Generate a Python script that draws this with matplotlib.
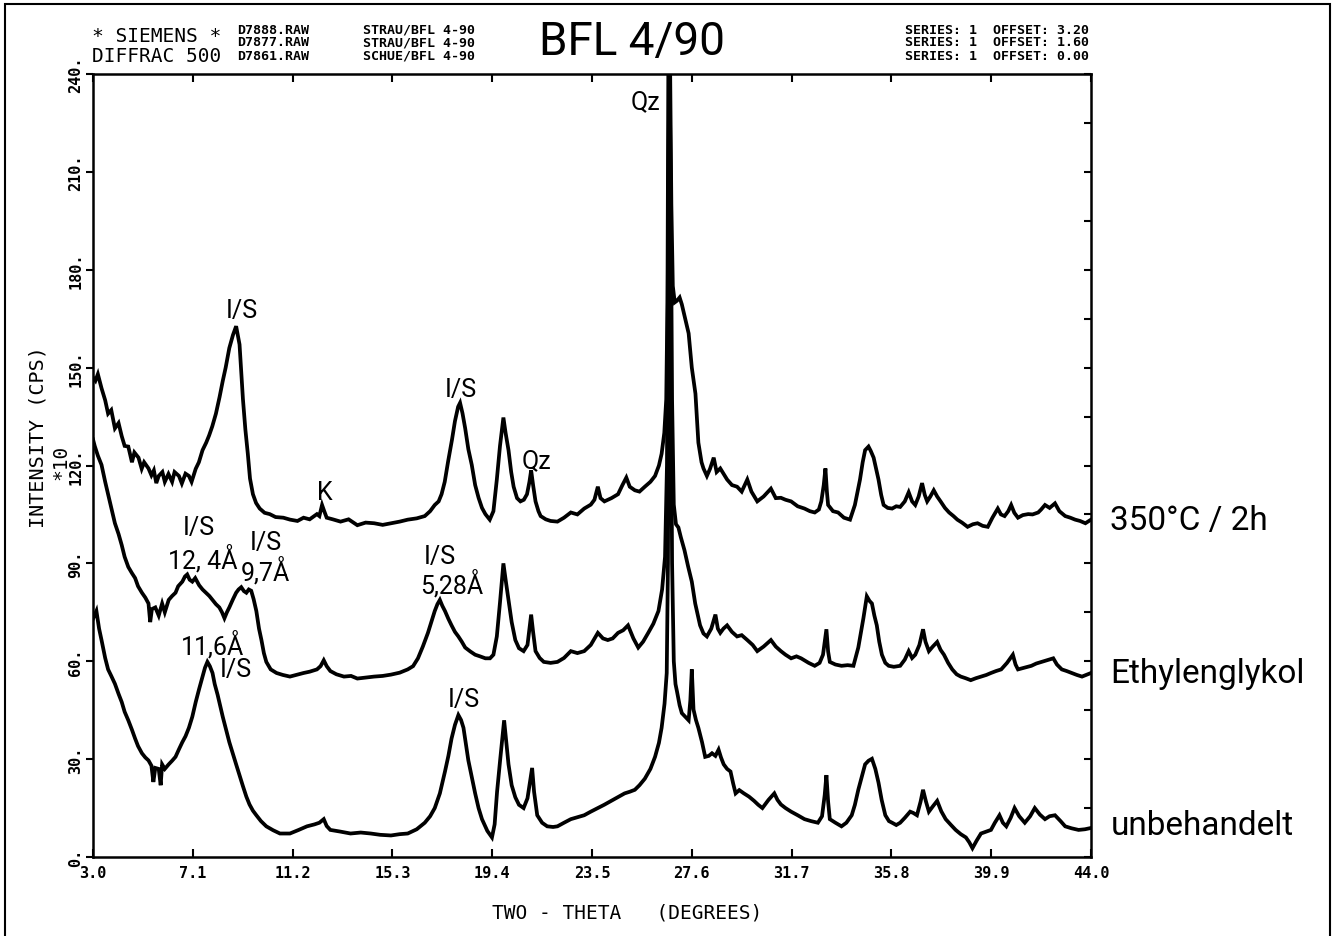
import numpy as np
import matplotlib.pyplot as plt

# Roentgendiffraktogramm BFL 4/90 (drei Praeparate, versetzt)
# Werte: 2-Theta in Grad, Intensitaet in CPS x10

tt_top = [3.0, 3.1, 3.2, 3.35, 3.5, 3.62, 3.75, 3.9, 4.05, 4.18, 4.3, 4.45, 4.6, 4.7, 4.87, 5.0, 5.1, 5.28, 5.4, 5.5,
          5.6, 5.7, 5.85, 5.95, 6.1, 6.25, 6.35, 6.53, 6.65, 6.8, 6.94, 7.05, 7.22, 7.35, 7.5, 7.65, 7.77, 7.9, 8.05, 8.2,
          8.33, 8.45, 8.6, 8.75, 8.88, 9.02, 9.16, 9.26, 9.36, 9.45, 9.57, 9.7, 9.85, 10.05, 10.26, 10.5, 10.82, 11.1,
          11.4, 11.65, 11.9, 12.2, 12.3, 12.41, 12.5, 12.6, 12.85, 13.17, 13.5, 13.86, 14.2, 14.55, 14.9, 15.24, 15.6,
          15.93, 16.3, 16.63, 16.85, 17.04, 17.2, 17.32, 17.45, 17.59, 17.75, 17.87, 18.0, 18.08, 18.18, 18.29, 18.42,
          18.56, 18.7, 18.84, 18.98, 19.12, 19.3, 19.45, 19.59, 19.72, 19.86, 19.95, 20.07, 20.18, 20.28, 20.42, 20.56,
          20.7, 20.83, 20.93, 21.0, 21.08, 21.18, 21.3, 21.39, 21.6, 21.8, 22.08, 22.35, 22.63, 22.9, 23.18, 23.45, 23.6,
          23.74, 23.85, 24.01, 24.3, 24.57, 24.75, 24.91, 25.05, 25.26, 25.45, 25.67, 25.9, 26.09, 26.25, 26.36, 26.47,
          26.55, 26.6, 26.64, 26.7, 26.76, 26.82, 26.9, 26.99, 27.1, 27.19, 27.33, 27.47, 27.6, 27.75, 27.87, 28.0,
          28.08, 28.22, 28.35, 28.5, 28.62, 28.77, 28.9, 29.05, 29.25, 29.46, 29.65, 29.88, 30.05, 30.29, 30.55, 30.85,
          31.05, 31.26, 31.45, 31.68, 31.95, 32.23, 32.45, 32.65, 32.82, 32.92, 33.02, 33.09, 33.15, 33.2, 33.4, 33.61,
          33.85, 34.1, 34.3, 34.51, 34.62, 34.72, 34.86, 34.95, 35.07, 35.17, 35.27, 35.38, 35.48, 35.65, 35.83, 36.0,
          36.16, 36.35, 36.51, 36.65, 36.78, 36.92, 37.06, 37.17, 37.27, 37.4, 37.54, 37.68, 37.82, 38.0, 38.17, 38.35,
          38.51, 38.7, 38.93, 39.15, 39.34, 39.55, 39.76, 39.95, 40.17, 40.3, 40.45, 40.6, 40.72, 40.85, 41.0, 41.2,
          41.42, 41.6, 41.83, 41.95, 42.11, 42.3, 42.52, 42.7, 42.94, 43.15, 43.35, 43.55, 43.77, 44.0]
i_top = [147, 146, 148, 143.7, 140, 135.9, 137, 131.4, 133, 129, 126, 125.8, 121, 124, 122.4, 119, 121, 119.1, 117, 118.5,
         114.6, 116.8, 118, 115, 117.4, 115, 118, 116.8, 114.5, 117.5, 116.8, 115, 119, 121, 124.7, 127, 129.2, 132, 135.9,
         141, 145.9, 150, 156, 160, 162.7, 157.1, 140.3, 131, 123.6, 116, 111.2, 108.5, 106.8, 105.5, 105.1, 104.2, 104,
         103.4, 103, 104, 103.5, 105.1, 104.5, 107.9, 106, 104, 103.5, 102.8, 103.5, 101.7, 102.5, 102.3, 101.8, 102.3,
         102.8, 103.4, 103.8, 104.5, 106, 107.9, 109, 111.2, 115, 121.3, 128, 133.6, 138, 139.2, 136, 131.4, 125, 120.2,
         114, 110.1, 107, 105.1, 103.4, 106, 115.7, 126, 134.7, 130, 124.7, 118, 113.5, 110, 109, 109.5, 111.2, 115,
         118.5, 114, 109, 106, 104.5, 103.5, 103, 102.8, 104, 105.6, 105, 106.8, 108, 109.5, 113.5, 110, 109, 110, 111.2,
         114, 116.3, 113.5, 112.4, 112, 113.5, 115, 116.8, 120, 123.6, 130, 140.3, 170, 250, 250, 200, 175, 170, 170.5,
         171.5, 169.4, 165, 160.5, 150, 142, 127, 121, 119.1, 116.8, 119, 122.4, 118, 119.1, 117.5, 115.7, 114, 113.5,
         112, 115.7, 112, 109, 110.5, 112.9, 110, 110.1, 109.5, 109, 107.5, 106.8, 106, 105.6, 106.5, 109, 114, 119.1,
         112, 107.9, 106, 105.6, 104, 103.4, 107.9, 115.7, 121, 124.7, 125.8, 124.5, 122.4, 119, 115.7, 111, 107.9, 107,
         106.8, 107.5, 107.3, 109, 111.8, 109, 107.9, 110.5, 114.6, 111, 109, 110.5, 112.4, 110.5, 109, 107, 105.6, 104.5,
         103.4, 102.5, 101.2, 102, 102.3, 101.5, 101.2, 104, 106.8, 105, 104.5, 106, 107.9, 105.5, 104, 104.8, 105.1, 105,
         105.6, 106.5, 107.9, 107, 108.4, 106, 104.5, 104, 103.4, 103, 102.3, 103.4]

tt_mid = [3.0, 3.07, 3.2, 3.35, 3.5, 3.62, 3.75, 3.9, 4.05, 4.18, 4.3, 4.45, 4.6, 4.73, 4.85, 5.01, 5.15, 5.28, 5.35, 5.42,
          5.56, 5.7, 5.84, 5.95, 6.11, 6.25, 6.39, 6.5, 6.67, 6.78, 6.87, 6.97, 7.08, 7.2, 7.36, 7.5, 7.64, 7.78, 7.91,
          8.05, 8.19, 8.3, 8.4, 8.5, 8.6, 8.75, 8.88, 8.98, 9.09, 9.2, 9.3, 9.4, 9.5, 9.6, 9.71, 9.82, 9.92, 10.02, 10.12,
          10.3, 10.54, 10.8, 11.09, 11.35, 11.65, 11.9, 12.2, 12.35, 12.48, 12.6, 12.75, 13.0, 13.31, 13.6, 13.86, 14.2,
          14.55, 14.9, 15.24, 15.6, 15.93, 16.15, 16.35, 16.55, 16.76, 16.9, 17.04, 17.15, 17.25, 17.35, 17.46, 17.6,
          17.73, 17.87, 18.01, 18.15, 18.29, 18.5, 18.7, 18.9, 19.12, 19.31, 19.45, 19.59, 19.72, 19.86, 19.97, 20.07,
          20.2, 20.35, 20.5, 20.69, 20.85, 20.93, 21.0, 21.08, 21.18, 21.35, 21.52, 21.8, 22.08, 22.35, 22.63, 22.9, 23.18,
          23.45, 23.74, 23.95, 24.15, 24.35, 24.57, 24.78, 24.98, 25.2, 25.4, 25.6, 25.81, 26.02, 26.23, 26.38, 26.5,
          26.58, 26.63, 26.68, 26.73, 26.79, 26.86, 26.95, 27.05, 27.15, 27.3, 27.45, 27.6, 27.74, 27.94, 28.08, 28.22,
          28.4, 28.57, 28.67, 28.77, 28.9, 29.05, 29.25, 29.46, 29.65, 29.88, 30.1, 30.29, 30.55, 30.85, 31.05, 31.26,
          31.45, 31.68, 31.9, 32.09, 32.4, 32.65, 32.85, 32.99, 33.13, 33.2, 33.27, 33.5, 33.75, 34.0, 34.24, 34.44,
          34.55, 34.65, 34.79, 34.9, 35.0, 35.1, 35.2, 35.3, 35.41, 35.55, 35.69, 35.9, 36.16, 36.35, 36.51, 36.65, 36.78,
          36.95, 37.1, 37.2, 37.34, 37.5, 37.68, 37.82, 37.96, 38.13, 38.3, 38.48, 38.65, 38.85, 39.06, 39.27, 39.48,
          39.7, 39.89, 40.1, 40.31, 40.55, 40.79, 40.9, 41.0, 41.25, 41.55, 41.75, 41.97, 42.2, 42.45, 42.6, 42.8, 43.0,
          43.21, 43.42, 43.63, 43.8, 44.0]
i_mid = [128, 126, 123, 120.2, 115, 111.2, 107, 102.3, 99, 95.6, 92, 88.9, 87, 85.5, 83, 81, 79.5, 77.7, 72, 76, 76.5, 74,
         77.7, 75, 78.8, 80, 81, 83, 84.4, 86, 86.6, 85, 84.4, 85.5, 83.3, 82, 81, 80, 78.8, 77.5, 76.5, 75, 73.2, 75, 76.5,
         79, 81, 82, 82.7, 81.5, 81, 82, 81.6, 79, 75.4, 70, 66.5, 62.5, 59.8, 57.5, 56.4, 55.8, 55.3, 55.8, 56.4, 56.8,
         57.5, 58.5, 60.3, 58.5, 57, 56, 55.3, 55.5, 54.7, 55, 55.3, 55.5, 55.9, 56.5, 57.5, 58.5, 60.9, 64.5, 68.7, 72,
         75.4, 77.5, 78.8, 77, 75.4, 73, 71, 69, 67.6, 66, 64.2, 63, 62, 61.5, 60.9, 60.9, 62, 67.6, 78, 90, 84, 78.8, 72,
         66.5, 64, 63.1, 65, 70, 74.3, 69, 63.1, 61, 59.8, 59.5, 59.8, 61, 63.1, 62.5, 63.1, 65, 68.7, 67, 66.5, 67, 68.7,
         69.5, 71, 67, 64.2, 66, 68.7, 71.5, 75.4, 82, 92, 120, 200, 245, 210, 140, 108, 102, 101, 98, 94, 89, 84.4, 77.7,
         71, 68.5, 67.6, 70, 74.3, 70, 68.7, 70, 71, 69, 67.6, 68, 66.5, 65, 63.1, 64.5, 66.5, 64.5, 63.1, 62, 60.9, 61.5,
         60.9, 59.5, 58.6, 59.5, 62, 69.8, 63, 59.8, 59, 58.6, 58.8, 58.6, 64.2, 69, 73.2, 79.9, 78.5, 77.7, 74, 71, 66, 62,
         59.5, 58.6, 58.3, 58.6, 60.5, 63.1, 61, 62, 65, 69.8, 66, 63.1, 64.5, 65.9, 63.5, 62, 59.5, 57.5, 56, 55.3, 54.8,
         54.2, 54.8, 55.3, 55.8, 56.4, 57, 57.5, 59.5, 62, 59, 57.5, 58, 58.6, 59.3, 59.8, 60.3, 60.9, 59, 57.5, 57, 56.4,
         55.8, 55.3, 55.8, 56.4]

tt_bot = [3.0, 3.14, 3.25, 3.35, 3.5, 3.62, 3.75, 3.9, 4.05, 4.18, 4.3, 4.45, 4.6, 4.73, 4.85, 5.01, 5.15, 5.28, 5.4, 5.48,
          5.56, 5.7, 5.78, 5.84, 5.95, 6.11, 6.25, 6.39, 6.53, 6.67, 6.8, 6.94, 7.08, 7.22, 7.36, 7.5, 7.6, 7.7, 7.8, 7.91,
          8.0, 8.12, 8.22, 8.33, 8.47, 8.6, 8.75, 8.88, 9.02, 9.16, 9.3, 9.43, 9.57, 9.71, 9.9, 10.12, 10.4, 10.68, 11.09,
          11.45, 11.79, 12.1, 12.3, 12.48, 12.6, 12.75, 13.15, 13.58, 14.0, 14.41, 14.8, 15.24, 15.6, 15.93, 16.3, 16.63,
          16.85, 17.04, 17.25, 17.46, 17.6, 17.73, 17.87, 18.01, 18.12, 18.22, 18.32, 18.42, 18.56, 18.7, 18.84, 18.98,
          19.2, 19.39, 19.5, 19.6, 19.73, 19.89, 19.98, 20.07, 20.2, 20.35, 20.5, 20.69, 20.85, 20.97, 21.04, 21.12, 21.25,
          21.45, 21.66, 21.9, 22.08, 22.35, 22.63, 22.9, 23.18, 23.45, 23.74, 24.0, 24.29, 24.55, 24.84, 25.05, 25.26,
          25.45, 25.67, 25.9, 26.09, 26.25, 26.36, 26.48, 26.57, 26.62, 26.66, 26.7, 26.74, 26.79, 26.86, 26.93, 26.99,
          27.1, 27.19, 27.33, 27.47, 27.54, 27.6, 27.67, 27.77, 27.87, 28.02, 28.15, 28.3, 28.43, 28.57, 28.7, 28.8, 28.91,
          29.05, 29.19, 29.3, 29.4, 29.55, 29.74, 29.95, 30.16, 30.33, 30.5, 30.75, 30.99, 31.12, 31.26, 31.45, 31.68,
          31.95, 32.23, 32.5, 32.78, 32.95, 33.06, 33.13, 33.2, 33.27, 33.5, 33.75, 33.95, 34.17, 34.3, 34.44, 34.58,
          34.72, 34.86, 35.0, 35.14, 35.27, 35.4, 35.55, 35.7, 35.83, 36.0, 36.16, 36.35, 36.57, 36.7, 36.85, 37.0, 37.1,
          37.22, 37.34, 37.5, 37.68, 37.85, 38.03, 38.25, 38.44, 38.65, 38.86, 39.0, 39.13, 39.3, 39.48, 39.7, 39.89,
          40.05, 40.24, 40.38, 40.52, 40.7, 40.86, 41.05, 41.28, 41.5, 41.69, 41.9, 42.11, 42.3, 42.52, 42.75, 42.94,
          43.2, 43.49, 43.75, 44.0]
i_bot = [73, 75.4, 70, 66.5, 61, 57.5, 55.5, 53.1, 50, 47.5, 44.5, 41.9, 39, 36.3, 34, 31.8, 30.5, 29.6, 28, 23, 27.3, 27,
         22, 28.4, 27, 28.4, 29.5, 30.7, 33, 35.2, 37, 39.6, 43, 47.5, 51.5, 55.3, 58, 59.8, 58.5, 56.4, 53, 49.7, 46.5, 43,
         39, 35.2, 31.5, 28.4, 25, 21.7, 18.5, 16.1, 14.2, 12.8, 11, 9.4, 8.2, 7.2, 7.2, 8.3, 9.4, 10, 10.5, 11.6, 9.5, 8.3,
         7.8, 7.2, 7.5, 7.2, 6.8, 6.6, 7, 7.2, 8.5, 10.5, 12.5, 15, 19.5, 26.2, 31, 36.3, 40.5, 43.5, 42, 39.6, 34.5, 29.6,
         24.5, 19.5, 15, 11.6, 8, 6, 10, 20, 30, 41.9, 35, 28.4, 22, 18.3, 16, 15, 18, 24, 27.3, 20, 12.8, 10.5, 9.4, 9.2,
         9.4, 10.5, 11.6, 12.2, 12.8, 13.9, 15, 16, 17.2, 18.3, 19.5, 20, 20.6, 22, 24, 27, 30.7, 35, 39.6, 47, 56.4, 90,
         170, 200, 150, 90, 60, 53, 50.8, 46.5, 44.1, 43, 41.9, 48, 57.5, 45.2, 42, 39.6, 35.2, 30.7, 31, 31.8, 31, 32.9,
         30.5, 28.4, 27, 26.2, 22.5, 19.5, 20.5, 19.5, 18.5, 17.2, 16, 15, 17.5, 19.5, 17.5, 16.1, 15, 13.9, 12.8, 11.6, 11,
         10.5, 12.5, 19, 25.1, 17, 11.6, 10.5, 9.4, 10.5, 12.8, 16, 20.6, 24.5, 28.4, 29.5, 30.1, 27, 22.8, 17.5, 12.8, 11,
         10.5, 9.8, 10.5, 12, 13.9, 13.5, 12.8, 17, 20.6, 17, 13.9, 15.5, 17.2, 14, 11.6, 9.8, 8.3, 7, 6.0, 4.5, 2.7, 5,
         7.2, 7.8, 8.3, 10.5, 12.8, 10.5, 9.4, 12, 15, 12.5, 10.5, 12.5, 15, 13, 11.6, 12.5, 12.8, 11, 9.4, 8.8, 8.3, 8.5,
         8.9]

x_ticks = [3.0, 7.1, 11.2, 15.3, 19.4, 23.5, 27.6, 31.7, 35.8, 39.9, 44.0]
y_ticks = [0, 30, 60, 90, 120, 150, 180, 210, 240]

probe_namen = ["350°C / 2h", "Ethylenglykol", "unbehandelt"]
probe_y = [103.4, 56.3, 9.8]

# Peak-Beschriftungen: (text, 2theta, intensitaet)
peak_labels = [("I/S", 9.1, 167.7), ("K", 12.53, 112.0), ("I/S", 18.12, 143.5), ("Qz", 21.2, 121.8),
               ("Qz", 25.7, 231.7),
               ("I/S", 7.35, 101.3), ("12, 4Å", 7.5, 91.5), ("I/S", 10.1, 96.7), ("9,7Å", 10.07, 87.8),
               ("I/S", 17.26, 92.4), ("5,28Å", 17.75, 83.9),
               ("11,6Å", 7.9, 65.2), ("I/S", 8.85, 57.5), ("I/S", 18.24, 48.4)]

kopf_links = ["D7888.RAW", "D7877.RAW", "D7861.RAW"]
kopf_mitte = ["STRAU/BFL 4-90", "STRAU/BFL 4-90", "SCHUE/BFL 4-90"]
kopf_rechts = ["SERIES: 1  OFFSET: 3.20", "SERIES: 1  OFFSET: 1.60", "SERIES: 1  OFFSET: 0.00"]

W, H = 1333, 937
fig = plt.figure(figsize=(W / 100, H / 100), dpi=100)
ax = fig.add_axes([93 / W, 1 - 858 / H, 998 / W, 783 / H])

for tt, ii in [(tt_top, i_top), (tt_mid, i_mid), (tt_bot, i_bot)]:
    ax.plot(tt, ii, color='black', lw=2.7, solid_joinstyle='miter')

ax.set_xlim(3.0, 44.0)
ax.set_ylim(0, 240)
ax.set_xticks(x_ticks)
ax.set_xticklabels(["%.1f" % v for v in x_ticks], family='DejaVu Sans Mono', fontweight='bold', fontsize=11)
ax.set_yticks(y_ticks)
ax.set_yticklabels(["%d." % v for v in y_ticks], family='DejaVu Sans Mono', fontweight='bold', fontsize=11,
                   rotation=90, va='center')
ax.tick_params(axis='x', direction='in', top=True, length=6, width=1.5, pad=6)
ax.tick_params(axis='y', direction='out', length=5, width=1.5, pad=2)
for s in ax.spines.values():
    s.set_linewidth(1.8)

# rechte Achse: Striche alle 15
ax2 = ax.twinx()
ax2.set_ylim(0, 240)
ax2.set_yticks(np.arange(0, 241, 15))
ax2.tick_params(direction='in', length=5, width=1.5, labelright=False)
for s in ax2.spines.values():
    s.set_visible(False)

for txt, x, y in peak_labels:
    ax.text(x, y, txt, ha='center', va='center', fontsize=18, family='Roboto')

for name, y in zip(probe_namen, probe_y):
    ax.text(44.8, y, name, ha='left', va='center', fontsize=24, family='Roboto', clip_on=False)

# Kopfzeile
fig.text(92 / W, 1 - 37 / H, "* SIEMENS *", family='DejaVu Sans Mono', fontsize=14, va='center')
fig.text(92 / W, 1 - 56 / H, "DIFFRAC 500", family='DejaVu Sans Mono', fontsize=14, va='center')
for k, (a, b, c) in enumerate(zip(kopf_links, kopf_mitte, kopf_rechts)):
    yy = 1 - (30 + 13 * k) / H
    fig.text(237 / W, yy, a, family='DejaVu Sans Mono', fontweight='bold', fontsize=9.5, va='center')
    fig.text(363 / W, yy, b, family='DejaVu Sans Mono', fontweight='bold', fontsize=9.5, va='center')
    fig.text(905 / W, yy, c, family='DejaVu Sans Mono', fontweight='bold', fontsize=9.5, va='center')
fig.text(632 / W, 1 - 42 / H, "BFL 4/90", family='Roboto', fontsize=33, ha='center', va='center')

# Achsentitel
fig.text(38 / W, 1 - 437 / H, "INTENSITY (CPS)", family='DejaVu Sans Mono', fontsize=14.5, rotation=90,
         ha='center', va='center')
fig.text(61 / W, 1 - 462 / H, "*10", family='DejaVu Sans Mono', fontsize=14, rotation=90,
         ha='center', va='center')
fig.text(627 / W, 1 - 913 / H, "TWO - THETA   (DEGREES)", family='DejaVu Sans Mono', fontsize=14,
         ha='center', va='center')

# Blattrahmen
fig.add_artist(plt.Rectangle((5 / W, -0.01), 1325 / W, 1 - 5 / H + 0.01, transform=fig.transFigure,
                             fill=False, lw=1.5, color='black'))

fig.savefig("out.png", dpi=100)
